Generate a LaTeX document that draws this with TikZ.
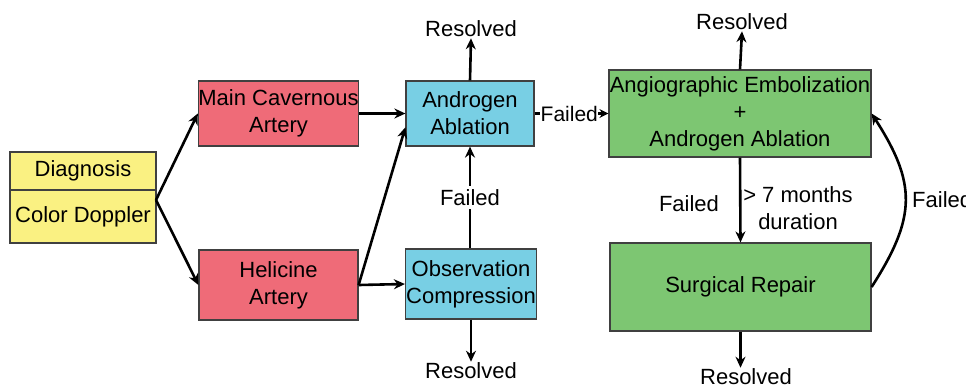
\documentclass[tikz,border=0pt]{standalone}
\usepackage{fontspec}
\setmainfont{Liberation Sans}
\usetikzlibrary{arrows.meta}
\definecolor{cred}{HTML}{EF6B78}
\definecolor{cblue}{HTML}{78CFE4}
\definecolor{cgreen}{HTML}{7DC672}
\definecolor{cyellow}{HTML}{FAF182}
\tikzset{
  box/.style={draw=black!75, line width=1.2pt, align=center, inner sep=0pt, font=\fontsize{22}{27}\selectfont},
  lbl/.style={align=center, inner sep=1pt, font=\fontsize{22}{27}\selectfont},
  arr/.style={-{Stealth[length=11pt,width=10pt]}, line width=2.6pt},
  smallarr/.style={-{Stealth[length=9pt,width=9pt]}, line width=2.6pt},
  ln/.style={line width=2.6pt},
}
\begin{document}
\begin{tikzpicture}[x=1pt,y=-1pt]
\useasboundingbox[fill=white] (0,0) rectangle (966,384);
% boxes
\node[box, fill=cyellow, minimum width=146pt, minimum height=38pt] (diagA) at (83,171) {Diagnosis};
\node[box, fill=cyellow, minimum width=146pt, minimum height=53pt] (diagB) at (83,216.5) {Color Doppler};
\node[box, fill=cred, minimum width=159pt, minimum height=65pt] (main) at (278.5,113.5) {Main Cavernous\\Artery};
\node[box, fill=cred, minimum width=159pt, minimum height=70pt] (heli) at (278.5,285) {Helicine\\Artery};
\node[box, fill=cblue, minimum width=128pt, minimum height=65pt] (andr) at (470,113.5) {Androgen\\Ablation};
\node[box, fill=cblue, minimum width=131pt, minimum height=70pt] (obs) at (471,284) {Observation\\Compression};
\node[box, fill=cgreen, minimum width=262pt, minimum height=87pt] (angio) at (740,113.5) {Angiographic Embolization\\+\\Androgen Ablation};
\node[box, fill=cgreen, minimum width=261pt, minimum height=88pt] (surg) at (740.5,287) {Surgical Repair};
% resolved labels
\node[lbl] (r1) at (471,29) {Resolved};
\node[lbl] (r2) at (742,22) {Resolved};
\node[lbl] (r3) at (471,371) {Resolved};
\node[lbl] (r4) at (746,377) {Resolved};
% connectors
\coordinate (ds) at (156,200);
\draw[arr] (ds) -- (main.west);
\draw[arr] (ds) -- (heli.west);
\draw[arr] (main.east) -- (andr.west);
\draw[arr] (heli.east) -- (obs.west);
\draw[arr] (heli.east) -- (andr.192);
\draw[arr] (andr.north) -- (r1.south);
\draw[arr] (angio.north) -- (r2.south);
\draw[arr] (obs.south) -- (r3.north);
\draw[arr] (surg.south) -- (r4.north -| surg.south);
\draw[arr] (obs.north -| andr.south) -- node[lbl, fill=white, inner sep=3pt] (f1) {Failed} (andr.south);
\path (andr.east) -- node[lbl, inner sep=0pt, pos=0.47, font=\fontsize{21}{25}\selectfont] (f2) {Failed} (angio.west);
\draw[ln] (andr.east) -- (f2.west);
\draw[smallarr] (f2.east) -- (angio.west);
\draw[arr] (angio.south) -- (surg.north);
\node[lbl] (f3) at (689,204) {Failed};
\node[lbl] (m7) at (798,208) {> 7 months\\duration};
\draw[arr] (surg.east) .. controls +(45,-70) and +(45,70) .. (angio.east);
\node[lbl, anchor=west] (f4) at (911,200) {Failed};
\end{tikzpicture}
\end{document}
